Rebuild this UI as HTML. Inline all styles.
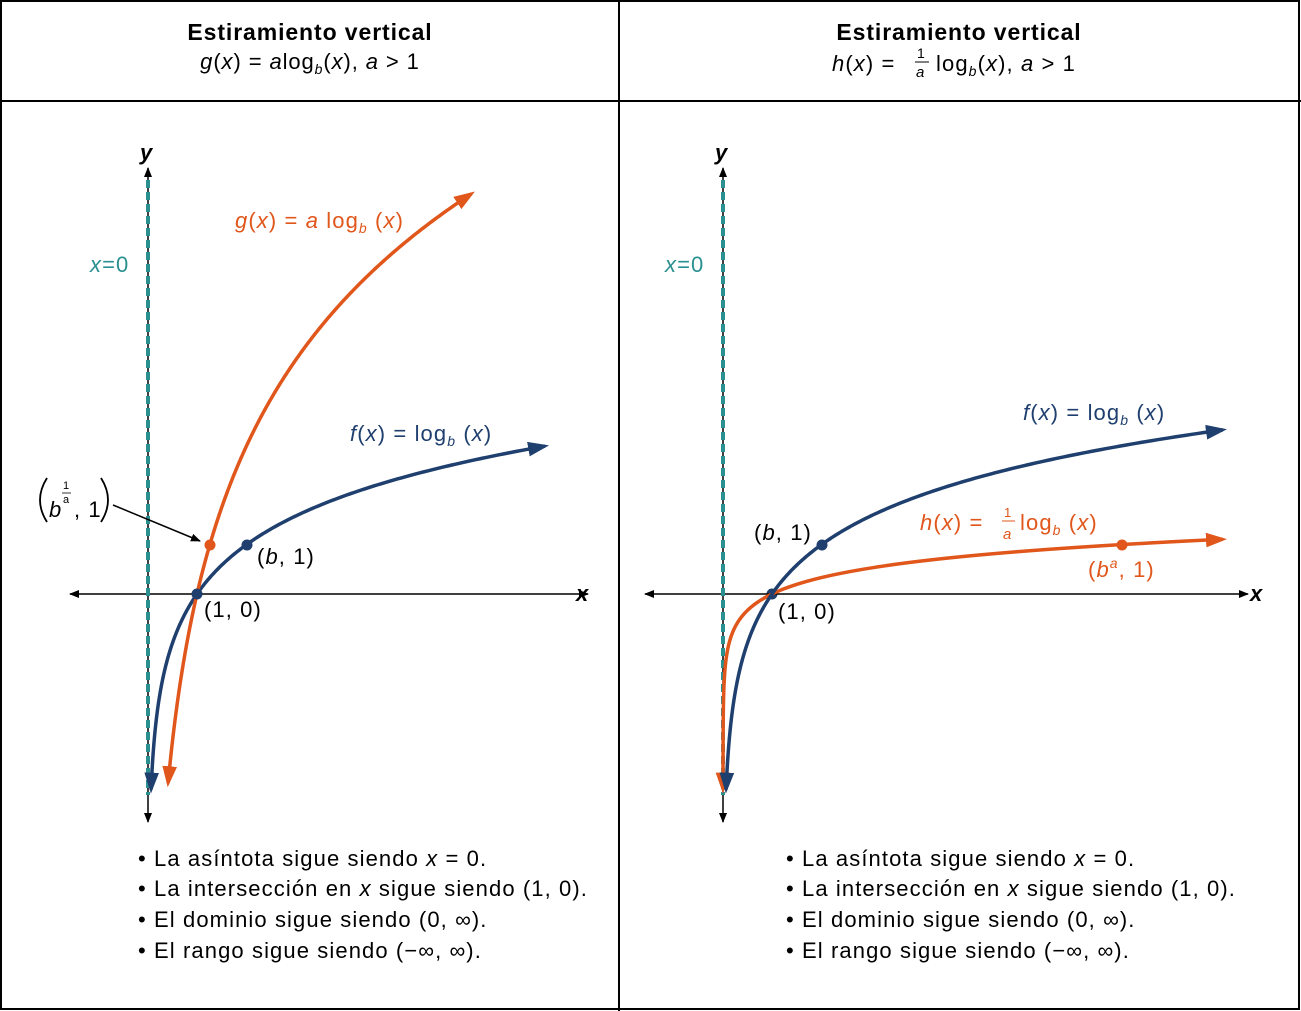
<!DOCTYPE html>
<html><head><meta charset="utf-8"><style>
body{margin:0;background:#fff}
svg{display:block;font-family:"Liberation Sans",sans-serif}
text{letter-spacing:1.1px}
</style></head><body>
<svg id="s" width="1301" height="1011" viewBox="0 0 1301 1011">
<defs>
<marker id="ab" viewBox="0 0 10 10" refX="9" refY="5" markerWidth="10" markerHeight="10" orient="auto" markerUnits="userSpaceOnUse"><path d="M0,1 L10,5 L0,9 z" fill="#000"/></marker>
<marker id="ao" viewBox="0 0 10 10" refX="8" refY="5" markerWidth="6" markerHeight="6" orient="auto-start-reverse"><path d="M0,1.5 L10,5 L0,8.5 z" fill="#e0561b"/></marker>
<marker id="an" viewBox="0 0 10 10" refX="8" refY="5" markerWidth="6" markerHeight="6" orient="auto-start-reverse"><path d="M0,1.5 L10,5 L0,8.5 z" fill="#1f3f6e"/></marker>
</defs>
<rect x="1" y="1" width="1298" height="1008" fill="none" stroke="#000" stroke-width="2"/>
<line x1="619" y1="0" x2="619" y2="1011" stroke="#000" stroke-width="2"/>
<line x1="0" y1="101" x2="1301" y2="101" stroke="#000" stroke-width="2"/>
<g font-size="23" text-anchor="middle">
<text x="310" y="40" font-weight="bold" style="letter-spacing:0.9px">Estiramiento vertical</text>
<text x="310" y="69" font-size="22" style="letter-spacing:0.9px"><tspan font-style="italic">g</tspan>(<tspan font-style="italic">x</tspan>) = <tspan font-style="italic">a</tspan>log<tspan font-size="14" dy="5" font-style="italic">b</tspan><tspan dy="-5">(</tspan><tspan font-style="italic">x</tspan>), <tspan font-style="italic">a</tspan> &gt; 1</text>
<text x="959" y="40" font-weight="bold" style="letter-spacing:0.9px">Estiramiento vertical</text>
</g>
<g font-size="22">
<text x="832" y="71"><tspan font-style="italic">h</tspan>(<tspan font-style="italic">x</tspan>) =</text>
<text x="917" y="58" font-size="14">1</text><line x1="915" y1="62" x2="929" y2="62" stroke="#000"/><text x="916" y="77" font-size="15" font-style="italic">a</text>
<text x="936" y="71">log<tspan font-size="14" dy="5" font-style="italic">b</tspan><tspan dy="-5">(</tspan><tspan font-style="italic">x</tspan>), <tspan font-style="italic">a</tspan> &gt; 1</text>
</g>
<g id="L"></g><g id="R"></g>
<g font-size="22">
<text x="138" y="866">• La asíntota sigue siendo <tspan font-style="italic">x</tspan> = 0.</text>
<text x="138" y="896">• La intersección en <tspan font-style="italic">x</tspan> sigue siendo (1, 0).</text>
<text x="138" y="927">• El dominio sigue siendo (0, ∞).</text>
<text x="138" y="958">• El rango sigue siendo (−∞, ∞).</text>
<text x="786" y="866">• La asíntota sigue siendo <tspan font-style="italic">x</tspan> = 0.</text>
<text x="786" y="896">• La intersección en <tspan font-style="italic">x</tspan> sigue siendo (1, 0).</text>
<text x="786" y="927">• El dominio sigue siendo (0, ∞).</text>
<text x="786" y="958">• El rango sigue siendo (−∞, ∞).</text>
</g>
<g font-size="22">
<text x="140" y="160" font-weight="bold" font-style="italic">y</text>
<text x="576" y="601" font-weight="bold" font-style="italic">x</text>
<text x="90" y="272" fill="#2a9090"><tspan font-style="italic">x</tspan>=0</text>
<text x="235" y="228" fill="#e0561b"><tspan font-style="italic">g</tspan>(<tspan font-style="italic">x</tspan>) = <tspan font-style="italic">a</tspan> log<tspan font-size="14" dy="5" font-style="italic">b</tspan><tspan dy="-5"> (</tspan><tspan font-style="italic">x</tspan>)</text>
<text x="350" y="441" fill="#1f3f6e"><tspan font-style="italic">f</tspan>(<tspan font-style="italic">x</tspan>) = log<tspan font-size="14" dy="5" font-style="italic">b</tspan><tspan dy="-5"> (</tspan><tspan font-style="italic">x</tspan>)</text>
<text x="257" y="564">(<tspan font-style="italic">b</tspan>, 1)</text>
<text x="204" y="617">(1, 0)</text>
<text x="49" y="517"><tspan font-style="italic">b</tspan></text>
<text x="63" y="489" font-size="11">1</text><line x1="62" y1="493" x2="71" y2="493" stroke="#000" stroke-width="0.8"/><text x="63" y="503" font-size="11">a</text>
<text x="74" y="517">, 1</text>
<path d="M47,478 Q33,500 47,522" fill="none" stroke="#000" stroke-width="1.8"/>
<path d="M101,478 Q115,500 101,522" fill="none" stroke="#000" stroke-width="1.8"/>
<line x1="113" y1="505" x2="200" y2="541" stroke="#000" stroke-width="1.5" marker-end="url(#ab)"/>
<text x="715" y="160" font-weight="bold" font-style="italic">y</text>
<text x="1250" y="601" font-weight="bold" font-style="italic">x</text>
<text x="665" y="272" fill="#2a9090"><tspan font-style="italic">x</tspan>=0</text>
<text x="1023" y="420" fill="#1f3f6e"><tspan font-style="italic">f</tspan>(<tspan font-style="italic">x</tspan>) = log<tspan font-size="14" dy="5" font-style="italic">b</tspan><tspan dy="-5"> (</tspan><tspan font-style="italic">x</tspan>)</text>
<text x="920" y="530" fill="#e0561b"><tspan font-style="italic">h</tspan>(<tspan font-style="italic">x</tspan>) =</text>
<text x="1020" y="530" fill="#e0561b">log<tspan font-size="14" dy="5" font-style="italic">b</tspan><tspan dy="-5"> (</tspan><tspan font-style="italic">x</tspan>)</text>
<text x="1004" y="517" font-size="13" fill="#e0561b">1</text><line x1="1002" y1="521" x2="1015" y2="521" stroke="#e0561b"/><text x="1003" y="539" font-size="15" font-style="italic" fill="#e0561b">a</text>
<text x="754" y="540">(<tspan font-style="italic">b</tspan>, 1)</text>
<text x="778" y="619">(1, 0)</text>
<text x="1088" y="577" fill="#e0561b">(<tspan font-style="italic">b</tspan><tspan font-size="14" dy="-9" font-style="italic">a</tspan><tspan dy="9">, 1)</tspan></text>
</g>
</svg>
<script>
function P(ox,oy,f,x0,x1){var d="",n=400;for(var i=0;i<=n;i++){var t=i/n,x=x0*Math.pow(x1/x0,t),y=f(x);d+=(i?"L":"M")+(ox+49*x).toFixed(2)+","+(oy-49*y).toFixed(2);}return d;}
var NS="http://www.w3.org/2000/svg";
function add(g,tag,a){var e=document.createElementNS(NS,tag);for(var k in a)e.setAttribute(k,a[k]);document.getElementById(g).appendChild(e);return e;}
var l2=function(x){return Math.log(x)/Math.LN2};
[["L",148,440],["R",723,525]].forEach(function(p){var g=p[0],ox=p[1],len=p[2];
add(g,"line",{x1:ox,y1:594,x2:ox-78,y2:594,stroke:"#000","stroke-width":1.5,"marker-end":"url(#ab)"});
add(g,"line",{x1:ox,y1:594,x2:ox+len,y2:594,stroke:"#000","stroke-width":1.5,"marker-end":"url(#ab)"});
add(g,"line",{x1:ox,y1:594,x2:ox,y2:168,stroke:"#000","stroke-width":1.5,"marker-end":"url(#ab)"});
add(g,"line",{x1:ox,y1:594,x2:ox,y2:822,stroke:"#000","stroke-width":1.5,"marker-end":"url(#ab)"});
add(g,"line",{x1:ox,y1:180,x2:ox,y2:795,stroke:"#2a9090","stroke-width":4,"stroke-dasharray":"8,4"});
});
add("L","path",{d:P(148,594,function(x){return l2(x)},0.063,8.1),fill:"none",stroke:"#1f3f6e","stroke-width":3.5,"marker-end":"url(#an)","marker-start":"url(#an)"});
add("L","path",{d:P(148,594,function(x){return 3*l2(x)},0.41,6.6),fill:"none",stroke:"#e0561b","stroke-width":3.5,"marker-end":"url(#ao)","marker-start":"url(#ao)"});
add("R","path",{d:P(723,594,function(x){return l2(x)/3},0.00025,10.2),fill:"none",stroke:"#e0561b","stroke-width":3.5,"marker-end":"url(#ao)","marker-start":"url(#ao)"});
add("R","path",{d:P(723,594,function(x){return l2(x)},0.063,10.2),fill:"none",stroke:"#1f3f6e","stroke-width":3.5,"marker-end":"url(#an)","marker-start":"url(#an)"});
[[197,594,"#1f3f6e"],[247,545,"#1f3f6e"],[210,545,"#e0561b"],[772,594,"#1f3f6e"],[822,545,"#1f3f6e"],[1122,545,"#e0561b"]].forEach(function(c){add("L","circle",{cx:c[0],cy:c[1],r:5.5,fill:c[2]});});
</script>
</body></html>
